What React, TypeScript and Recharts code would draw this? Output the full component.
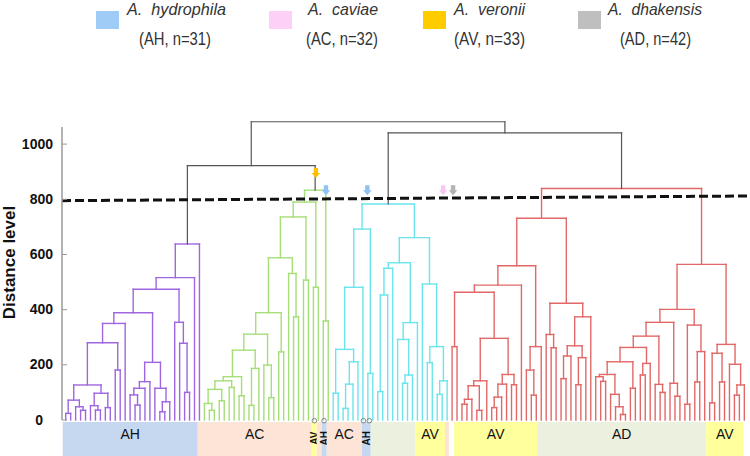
import React from "react";
import { ComposedChart, XAxis, YAxis, ReferenceLine, ReferenceArea, ReferenceDot } from "recharts";

type Node = 0 | [number, Node, Node] | { color: string; node: Node };

const PURPLE = "#9f66df";
const GREEN = "#a6de78";
const CYAN = "#6be4ec";
const RED = "#e26868";
const LINK = "#555555";

// merge heights (distance level), leaves are 0
const ahCluster: Node = [638,
  [516,
    [474,
      [389,
        [350,
          [280,
            [127,
              [72, [24, 0, 0], [48, 0, [35, 0, 0]]],
              [97, [52, 0, [36, 0, 0]], [45, 0, 0]]],
            [181, 0, 0]],
          0],
        [209,
          [139, [115, [91, 0, [54, 0, 0]], 0], 0],
          [115, 0, [66, [30, 0, 0], 0]]]],
      [354, 0, [278, 0, [100, 0, 0]]]],
    0],
  0];

const acCluster: Node = [833,
  [790,
    [736,
      [588,
        [389,
          [311,
            [253,
              [157,
                [142, [111, [60, 0, [35, 0, 0]], [70, 0, 0]], [118, 0, 0]],
                [88, 0, 0]],
              [187, [53, 0, 0], 0]],
            [199, 0, [81, 0, 0]]],
          [247, 0, 0]],
        [531, 0, [374, 0, 0]]],
      [507, 0, 0]],
    [481, 0, 0]],
  [359, 0, 0]];

const cyCluster: Node = [783,
  [692,
    [481, [256, [97, 0, 0], [211, [130, [42, 0, 0], 0], 0]], 0],
    [169, 0, 0]],
  [661,
    [570,
      [550, [453, [103, 0, 0], 0], 0],
      [353, [292, 0, [163, [133, 0, 0], 0]], 0]],
    [493, 0, [266, [208, 0, 0], [142, [93, 0, 0], 0]]]]];

const adCluster: Node = [839,
  [731,
    [559,
      [489,
        [463,
          [266, 0, 0],
          [296,
            [142, [124, [75, [57, 0, 0], 0], [35, 0, 0]], 0],
            [165, [130, [83, [45, 0, 0], 0], 0], [128, 0, 0]]]],
        0],
      [266, [181, 0, [90, 0, 0]], 0]],
    [423,
      [310, 0, [262, 0, 0]],
      [374, [269, [232, [150, 0, 0], 0], [226, [128, 0, 0], 0]], 0]]],
  [564,
    [401,
      [354,
        [304,
          [263,
            [211,
              [165, [157, 0, [140, 0, 0]], [93, 0, [48, 0, [20, 0, 0]]]],
              [115, 0, 0]],
            [205, [163, 0, 0], 0]],
          [129, 0, [100, 0, 0]]],
        [133, 0, [86, 0, 0]]],
      [344, [57, 0, 0], [248, [138, 0, 0], 0]]],
    [274,
      [242, [62, 0, 0], [138, 0, 0]],
      [202, 0, [127, [90, 0, 0], 0]]]]];

const dendrogram: Node = [1081,
  [922, { color: PURPLE, node: ahCluster }, { color: GREEN, node: acCluster }],
  [1041, { color: CYAN, node: cyCluster }, { color: RED, node: adCluster }]];

const cutoffLevel = [795, 812];
const yTicks = [0, 200, 400, 600, 800, 1000];

// strain group strip under the tree (in leaf positions)
const bandGroups = ["AH", "AC", "AV", "AC", "AH", "AC", "AH", "AD", "AV", "AC", "AV", "AD", "AV"];
const bandStart = [-0.6, 26.65, 49.67, 50.68, 51.69, 52.7, 59.77, 61.59, 70.53, 76.58, 78.4, 95.2, 129.3];
const bandEnd = [26.65, 49.67, 50.68, 51.69, 52.7, 59.77, 61.59, 70.53, 76.58, 77.39, 95.2, 129.3, 136.8];
const bandLabels = ["AH", "AC", "AV", "", "AH", "AC", "AH", "", "AV", "", "AV", "AD", "AV"];
const bandColors: Record<string, string> = { AH: "#c6d8ef", AC: "#fce4d7", AV: "#ffff9c", AD: "#ebf0df" };

const markedLeaves = [50.2, 52.15, 60.1, 61.3];

const arrowX = [50.5, 52.55, 60.9, 76.2, 78.2];
const arrowY = [895, 833, 833, 833, 833];
const arrowColors = ["#ffc000", "#8fc1f4", "#8fc1f4", "#f8c6f2", "#b3b3b3"];

const legendNames = ["A.\u00a0\u00a0hydrophila", "A.\u00a0\u00a0caviae", "A.\u00a0\u00a0veronii", "A.\u00a0\u00a0dhakensis"];
const legendCodes = ["(AH, n=31)", "(AC, n=32)", "(AV, n=33)", "(AD, n=42)"];
const legendColors = ["#9fcbf7", "#fdd0f7", "#ffcc00", "#bfbfbf"];

type Seg = { x1: number; y1: number; x2: number; y2: number; color: string };

function layoutTree(root: Node): Seg[] {
  const segs: Seg[] = [];
  let next = 0;
  const walk = (n: Node, color: string): { x: number; h: number } => {
    if (n === 0) return { x: next++, h: 0 };
    if (!Array.isArray(n)) return walk(n.node, n.color);
    const [h, a, b] = n;
    const l = walk(a, color);
    const r = walk(b, color);
    segs.push(
      { x1: l.x, y1: l.h, x2: l.x, y2: h, color },
      { x1: r.x, y1: r.h, x2: r.x, y2: h, color },
      { x1: l.x, y1: h, x2: r.x, y2: h, color }
    );
    return { x: (l.x + r.x) / 2, h };
  };
  walk(root, LINK);
  return segs;
}

const segments = layoutTree(dendrogram);
const FONT = "'Liberation Sans', Arial, sans-serif";

const YTick = (props: any) => {
  const { x, y, payload } = props;
  const zero = payload.value === 0;
  return (
    <g>
      <line x1={x} x2={x + 5} y1={y} y2={y} stroke="#999" strokeWidth={1} />
      <text x={zero ? x - 19 : x - 9} y={y} dy={4.5} textAnchor="end" fontSize={14} fontWeight="bold" fill="#111" fontFamily={FONT}>
        {payload.value}
      </text>
    </g>
  );
};

const axisTitle = (props: any) => {
  const vb = props.viewBox || { x: 0, y: 127, width: 62, height: 293 };
  const x = vb.x + 15;
  const y = vb.y + vb.height / 2 - 11;
  return (
    <text x={x} y={y} transform={`rotate(-90 ${x} ${y})`} textAnchor="middle" fontSize={17} fontWeight="bold" fill="#111" fontFamily={FONT}>
      Distance level
    </text>
  );
};

const bandLabel = (text: string, rotated: boolean) => (props: any) => {
  const vb = props.viewBox;
  if (!vb || !text) return null;
  const cx = vb.x + vb.width / 2;
  if (rotated) {
    const bx = cx + 3.5;
    const cy = vb.y + 16.3;
    return (
      <text x={bx} y={cy} transform={`rotate(-90 ${bx} ${cy})`} textAnchor="middle" fontSize={10} fontWeight="bold" fill="#111" fontFamily={FONT}>
        {text}
      </text>
    );
  }
  return (
    <text x={cx} y={vb.y + 17.5} textAnchor="middle" fontSize={14} fill="#111" fontFamily={FONT}>
      {text}
    </text>
  );
};

const arrowShape = (color: string) => (props: any) => {
  const { cx, cy } = props;
  const d = `M${cx - 2.2},${cy - 5} L${cx + 2.2},${cy - 5} L${cx + 2.2},${cy} L${cx + 4.3},${cy} L${cx},${cy + 5} L${cx - 4.3},${cy} L${cx - 2.2},${cy} Z`;
  return <path d={d} fill={color} />;
};

const nameX = [127, 308, 454, 608];
const nameW = [99, 70, 71, 94];
const codeX = [139, 306, 454, 620];
const codeW = [72, 72, 71, 71];
const squareX = [96, 269, 423, 578];

export default function App() {
  return (
    <div style={{ position: "relative", width: 750, height: 456, background: "#fff" }}>
      <style>{"body{margin:0}"}</style>
      <ComposedChart width={750} height={456} margin={{ top: 127, right: 3.2, bottom: 36, left: 0 }}>
        <XAxis
          type="number"
          dataKey="x"
          domain={[-0.75, 137.5]}
          allowDataOverflow
          tick={false}
          tickLine={false}
          height={0}
          axisLine={{ stroke: "#9a9a9a", strokeWidth: 1.5 }}
        />
        <YAxis
          type="number"
          domain={[0, 1062]}
          allowDataOverflow
          ticks={yTicks}
          interval={0}
          width={62}
          tickSize={0}
          tickMargin={0}
          tickLine={false}
          tick={<YTick />}
          axisLine={{ stroke: "#9a9a9a", strokeWidth: 1.5 }}
          label={axisTitle}
        />
        {bandGroups.map((g, i) => (
          <ReferenceArea
            key={`band-${i}`}
            x1={bandStart[i]}
            x2={bandEnd[i]}
            y1={-7}
            y2={-131}
            fill={bandColors[g]}
            fillOpacity={1}
            stroke="none"
            ifOverflow="visible"
            label={bandLabel(bandLabels[i], bandEnd[i] - bandStart[i] < 2.5)}
          />
        ))}
        {segments.map((s, i) => (
          <ReferenceLine
            key={`seg-${i}`}
            segment={[{ x: s.x1, y: s.y1 }, { x: s.x2, y: s.y2 }]}
            stroke={s.color}
            strokeWidth={s.color === LINK ? 1.2 : 1.4}
            strokeLinecap="square"
            ifOverflow="visible"
          />
        ))}
        <ReferenceLine
          segment={[{ x: -0.75, y: cutoffLevel[0] }, { x: 138.2, y: cutoffLevel[1] }]}
          stroke="#111"
          strokeWidth={3}
          strokeDasharray="9 4"
          ifOverflow="visible"
        />
        {markedLeaves.map((x, i) => (
          <ReferenceDot key={`mark-${i}`} x={x} y={-2.5} r={2.3} fill="none" stroke="#888" strokeWidth={1} ifOverflow="visible" />
        ))}
        {arrowX.map((x, i) => (
          <ReferenceDot key={`arrow-${i}`} x={x} y={arrowY[i]} r={5} ifOverflow="visible" shape={arrowShape(arrowColors[i])} />
        ))}
      </ComposedChart>
      <svg width={750} height={60} style={{ position: "absolute", left: 0, top: 0, pointerEvents: "none" }}>
        {legendNames.map((name, i) => (
          <g key={name}>
            <rect x={squareX[i]} y={11} width={23} height={18} fill={legendColors[i]} />
            <text x={nameX[i]} y={15} fontSize={17} fontStyle="italic" fill="#333" fontFamily={FONT} textLength={nameW[i]} lengthAdjust="spacingAndGlyphs">
              {name}
            </text>
            <text x={codeX[i]} y={45} fontSize={18} fill="#333" fontFamily={FONT} textLength={codeW[i]} lengthAdjust="spacingAndGlyphs">
              {legendCodes[i]}
            </text>
          </g>
        ))}
      </svg>
    </div>
  );
}
